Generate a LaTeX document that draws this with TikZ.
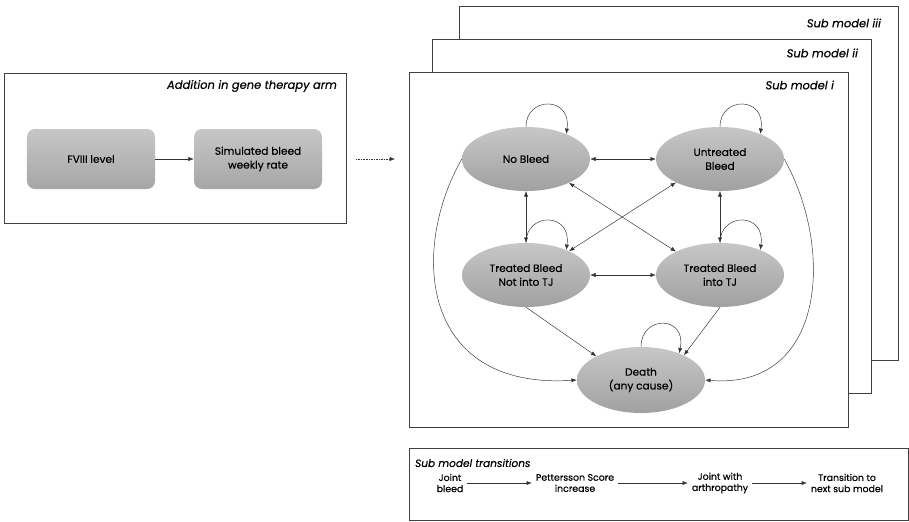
\documentclass[tikz,border=0pt]{standalone}
\usepackage{fontspec}
\setmainfont{Poppins}[FakeBold=0.4]
\usetikzlibrary{arrows.meta, positioning, shapes.geometric}

\begin{document}
\begin{tikzpicture}[
  x=0.03cm, y=-0.03cm,
  frame/.style={draw=black!75, fill=white, line width=0.6pt},
  tag/.style={anchor=east, font=\fontsize{9.8}{11}\selectfont\itshape},
  state/.style={ellipse, top color=black!22, bottom color=black!37, minimum width=3.84cm, minimum height=1.92cm, inner sep=0pt, align=center, font=\fontsize{9}{11.8}\selectfont},
  gtbox/.style={rounded corners=0.24cm, top color=black!22, bottom color=black!35, minimum width=3.84cm, minimum height=1.8cm, align=center, font=\fontsize{9}{11.8}\selectfont},
  trans/.style={align=center, font=\fontsize{8}{9.5}\selectfont},
  link/.style={draw=black!80, line width=0.4pt},
  >={Latex[length=4.5pt,width=3.5pt]}
]
\useasboundingbox (0,0) rectangle (909,521);
% gene therapy arm
\draw[frame] (4,73) rectangle (346,223);
\node[tag] (genetag) at (341,86) {Addition in gene therapy arm};
\node[gtbox] (fviii) at (91,159) {FVIII level};
\node[gtbox] (rate) at (258,159) {Simulated bleed\\weekly rate};
\draw[link, ->] (fviii) -- (rate);
\coordinate (dotA) at (356,159);
\coordinate (dotB) at (395,159);
\draw[link, ->, densely dotted] (dotA) -- (dotB);
% stacked sub models
\draw[frame] (459,6) rectangle (898,360);
\node[tag] (tagiii) at (885,23) {Sub model iii};
\draw[frame] (432,39) rectangle (871,393);
\node[tag] (tagii) at (862,53) {Sub model ii};
\draw[frame] (409,72) rectangle (848,427);
\node[tag] (tagi) at (838,85) {Sub model i};
% states
\node[state] (nobleed) at (526,159) {No Bleed};
\node[state] (untreated) at (720,159) {Untreated\\Bleed};
\node[state] (treatnot) at (526,275) {Treated Bleed\\Not into TJ};
\node[state] (treattj) at (720,275) {Treated Bleed\\into TJ};
\node[state, minimum height=1.98cm] (death) at (641,380) {Death\\(any cause)};
% self loops
\draw[link, ->] (nobleed.north) .. controls (526,96) and (572,96) .. (nobleed.32);
\draw[link, ->] (untreated.north) .. controls (720,96) and (766,96) .. (untreated.32);
\draw[link, ->] (treatnot.north) .. controls (526,212) and (572,212) .. (treatnot.32);
\draw[link, ->] (treattj.north) .. controls (720,212) and (766,212) .. (treattj.32);
\draw[link, ->] (death.north) .. controls (641,315) and (687,315) .. (death.35);
% transitions between states
\draw[link, <->] (nobleed) -- (untreated);
\draw[link, <->] (treatnot) -- (treattj);
\draw[link, <->] (nobleed) -- (treatnot);
\draw[link, <->] (untreated) -- (treattj);
\draw[link, <->] (nobleed.-29) -- (treattj.152);
\draw[link, <->] (untreated.-152) -- (treatnot.29);
\draw[link, ->] (treatnot.south) -- (death.152);
\draw[link, ->] (treattj.south) -- (death.30);
\draw[link, ->] (nobleed.west) .. controls (410,250) and (420,390) .. (death.west);
\draw[link, ->] (untreated.east) .. controls (835,250) and (825,390) .. (death.east);
% sub model transitions
\draw[frame] (409,448) rectangle (908,520);
\node[anchor=west, font=\fontsize{9}{10}\selectfont\itshape] (transtag) at (411,463) {Sub model transitions};
\node[trans] (jbleed) at (450,483) {Joint\\bleed};
\node[trans] (pscore) at (575,483) {Pettersson Score\\increase};
\node[trans] (arthro) at (720,483) {Joint with\\arthropathy};
\node[trans] (nextsub) at (847,483) {Transition to\\next sub model};
\draw[link, ->] (jbleed) -- (pscore);
\draw[link, ->] (pscore) -- (arthro);
\draw[link, ->] (arthro) -- (nextsub);
\end{tikzpicture}
\end{document}
